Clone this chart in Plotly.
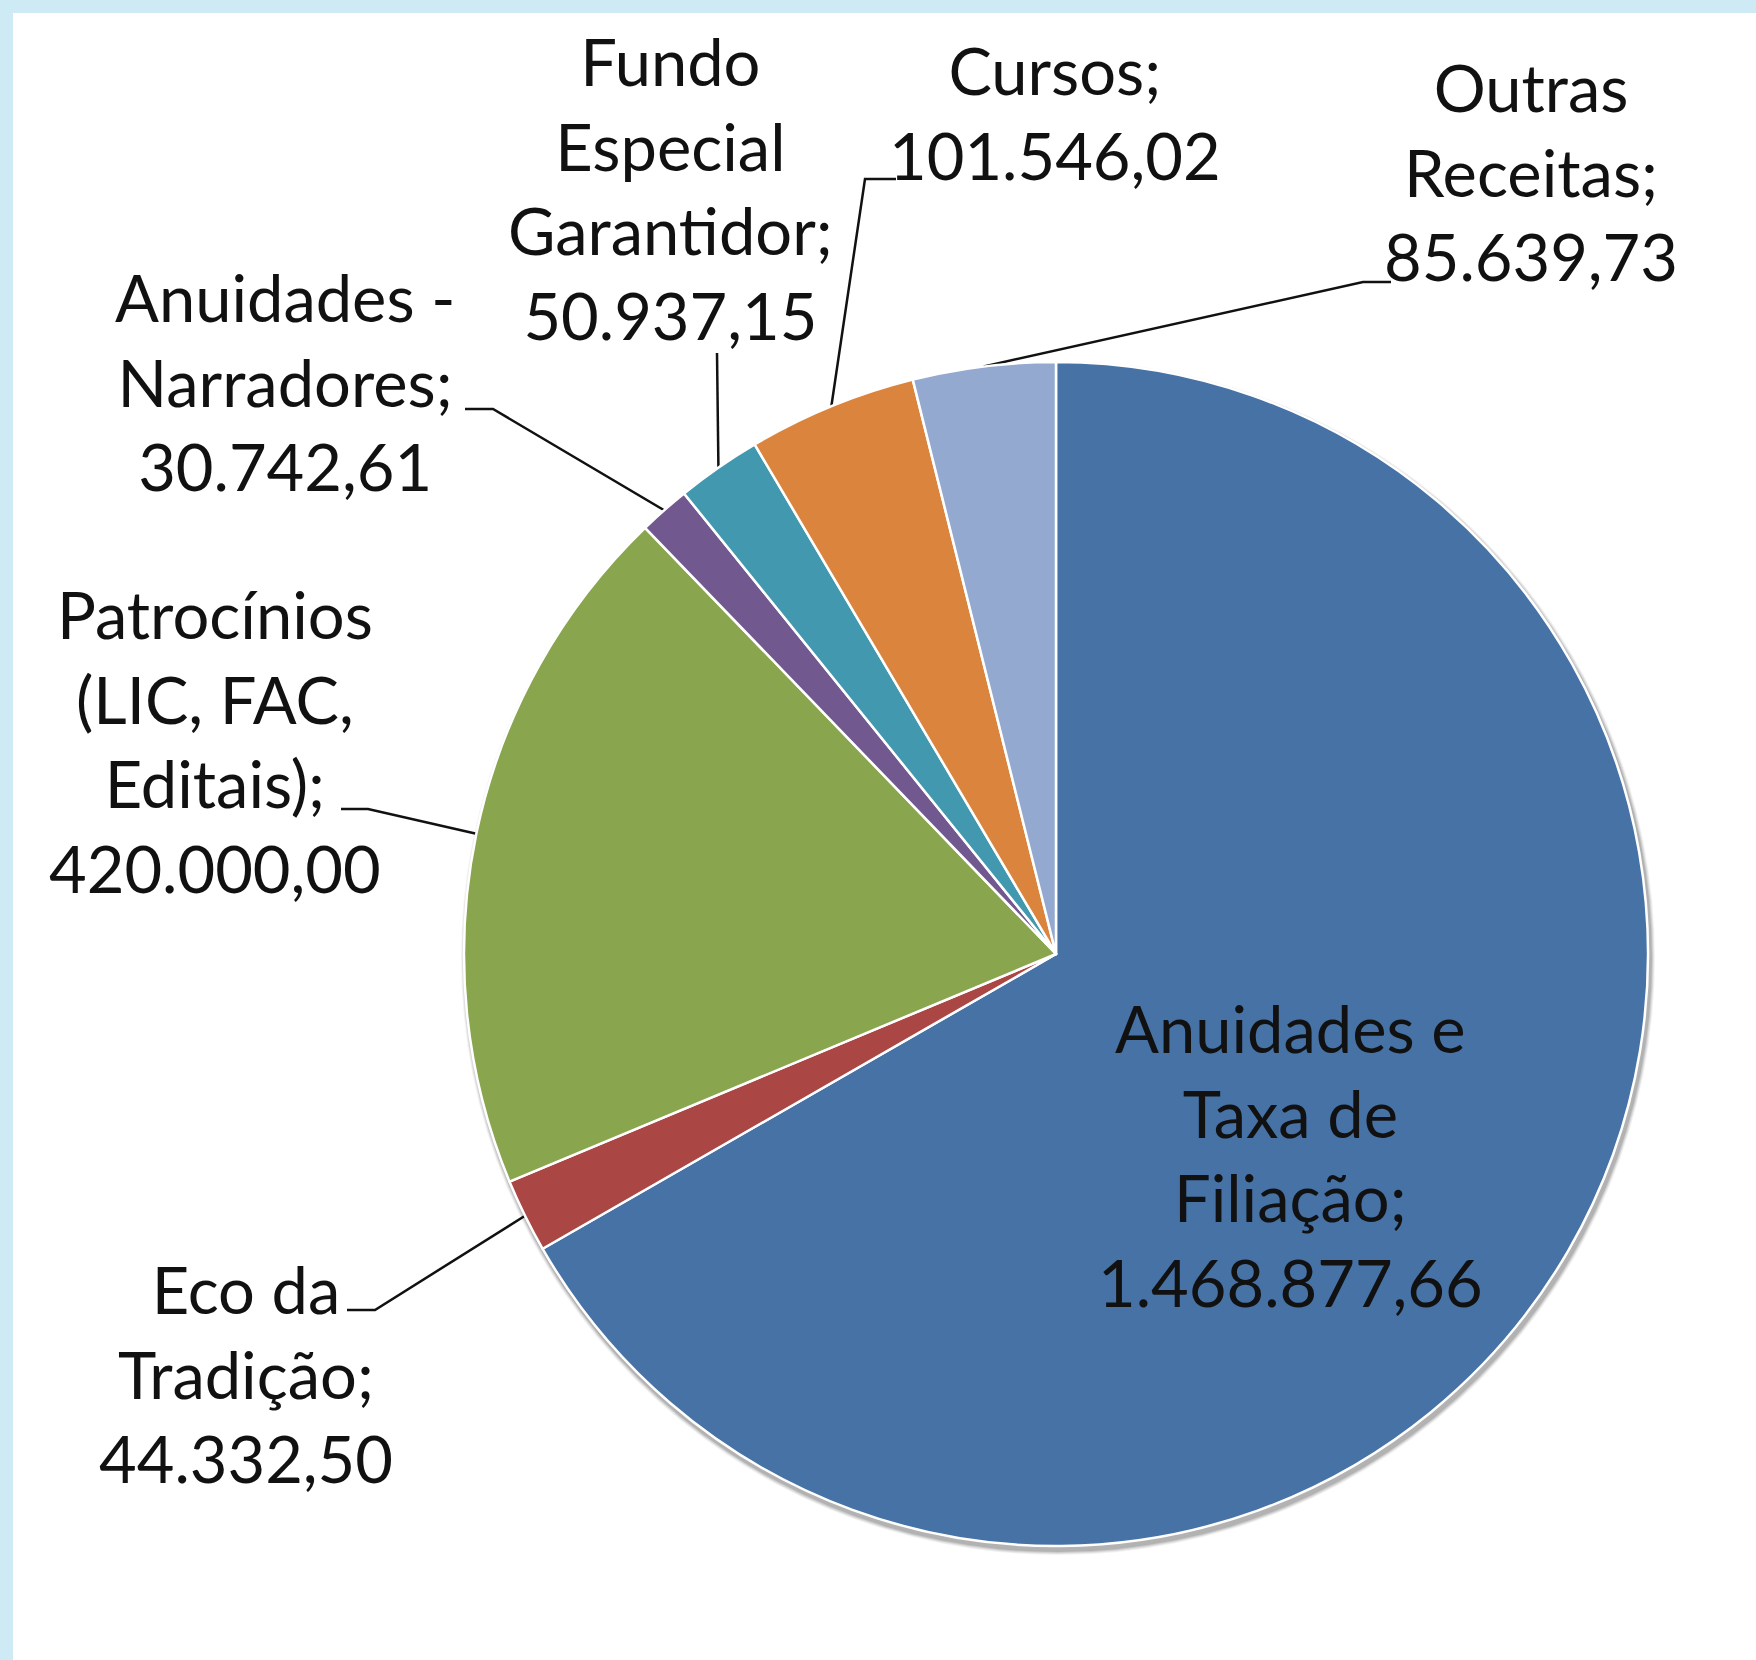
import math
import plotly.graph_objects as go

# Receitas (valores em R$)
categorias = ["Anuidades e Taxa de Filiação", "Eco da Tradição",
              "Patrocínios (LIC, FAC, Editais)", "Anuidades - Narradores",
              "Fundo Especial Garantidor", "Cursos", "Outras Receitas"]
valores = [1468877.66, 44332.50, 420000.00, 30742.61, 50937.15, 101546.02, 85639.73]
# quebras de linha dos rótulos como no gráfico original
linhas_rotulo = [["Anuidades e", "Taxa de", "Filiação;"],
                 ["Eco da", "Tradição;"],
                 ["Patrocínios", "(LIC, FAC,", "Editais);"],
                 ["Anuidades -", "Narradores;"],
                 ["Fundo", "Especial", "Garantidor;"],
                 ["Cursos;"],
                 ["Outras", "Receitas;"]]
cores = ["#4672A6", "#AA4643", "#89A54E", "#71588F", "#4198AF", "#DB843D", "#93A9CF"]

W, H = 1756, 1660
cx, cy, r = 1056, 954, 592

# posição dos rótulos (pixels) e pontos das linhas de chamada
pos_rotulo = [(1290, 1155), (246, 1373), (215, 741), (285, 381), (670, 188), (1055, 112), (1531, 171)]
cotovelo = [None, (375, 1310), (368, 809), (493, 409), (717, 353), (865, 179), (1363, 282)]
fim_linha = [None, (347, 1310), (341, 809), (465, 409), (717, 353), (896, 179), (1391, 282)]


def moeda(v):
    s = f"{v:,.2f}"
    return s.replace(",", "X").replace(".", ",").replace("X", ".")


fig = go.Figure()

# moldura azul clara + fundo branco
fig.add_shape(type="rect", x0=13, y0=13, x1=W + 5, y1=H + 5, xref="x", yref="y",
              fillcolor="white", line=dict(width=0), layer="below")

# sombra suave da pizza
for k, a in enumerate([0.05, 0.07, 0.09, 0.12]):
    e = 5 - k
    fig.add_shape(type="circle", xref="x", yref="y", layer="below",
                  x0=cx - r - e + 2, x1=cx + r + e + 2, y0=cy - r - e + 4, y1=cy + r + e + 4,
                  fillcolor=f"rgba(0,0,0,{a})", line=dict(width=0))

fig.add_trace(go.Pie(
    labels=categorias, values=valores, sort=False, direction="clockwise", rotation=0,
    marker=dict(colors=cores, line=dict(color="white", width=2.5)),
    textinfo="none", hoverinfo="label+value", showlegend=False,
    domain=dict(x=[(cx - r) / W, (cx + r) / W], y=[(H - cy - r) / H, (H - cy + r) / H]),
))

# linhas de chamada: da borda da fatia (ângulo médio) até o rótulo
total = sum(valores)
acum = 0
lx, ly = [], []
for i, v in enumerate(valores):
    meio = (acum + v / 2) / total * 2 * math.pi
    acum += v
    if cotovelo[i] is None:
        continue
    bx = cx + r * math.sin(meio)
    by = cy - r * math.cos(meio)
    lx += [bx, cotovelo[i][0], fim_linha[i][0], None]
    ly += [by, cotovelo[i][1], fim_linha[i][1], None]

fig.add_trace(go.Scatter(x=lx, y=ly, mode="lines", line=dict(color="#111111", width=2.5),
                         hoverinfo="skip", showlegend=False))

for i, v in enumerate(valores):
    texto = "<br>".join(linhas_rotulo[i] + [moeda(v)])
    fig.add_annotation(x=pos_rotulo[i][0], y=pos_rotulo[i][1], xref="x", yref="y",
                       text=texto, showarrow=False, align="center",
                       xanchor="center", yanchor="middle",
                       font=dict(family="Lato, Noto Sans, sans-serif", size=65, color="#111111"))

fig.update_xaxes(range=[0, W], visible=False, fixedrange=True)
fig.update_yaxes(range=[H, 0], visible=False, fixedrange=True)
fig.update_layout(width=W, height=H, margin=dict(l=0, r=0, t=0, b=0),
                  paper_bgcolor="#CDEAF5", plot_bgcolor="#CDEAF5")

# sem margem da página, para a figura ocupar a janela toda
fig.write_html("out.html", config={"displayModeBar": False},
               post_script="document.body.style.margin='0';")
